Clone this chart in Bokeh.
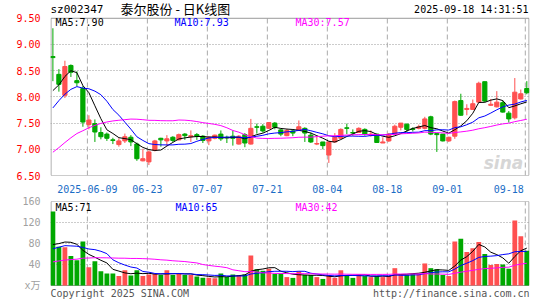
import numpy as np
import pandas as pd
from bokeh.plotting import figure
from bokeh.layouts import column
from bokeh.models import Range1d, FixedTicker, Label, ColumnDataSource
from bokeh.embed import file_html
from bokeh.resources import INLINE

code = "sz002347"
name = "泰尔股份 - 日K线图"
stamp = "2025-09-18 14:31:51"

dates = [d.strftime("%Y-%m-%d") for d in pd.bdate_range("2025-05-29", "2025-09-18")
         if d.strftime("%Y-%m-%d") != "2025-06-02"]

open_ = [8.77, 8.43, 8.03, 8.60, 8.31, 8.16, 7.47, 7.49, 7.32, 7.29,
         7.18, 7.09, 7.16, 7.23, 7.10, 6.78, 6.76, 6.98, 7.21, 7.16,
         7.23, 7.18, 7.29, 7.24, 7.28, 7.25, 7.16, 7.21, 7.29, 7.23,
         7.25, 7.10, 7.28, 7.10, 7.43, 7.44, 7.40, 7.50, 7.37, 7.26,
         7.35, 7.36, 7.40, 7.27, 7.10, 7.14, 6.89, 7.14, 7.21, 7.41,
         7.32, 7.32, 7.38, 7.27, 7.29, 7.12, 7.16, 7.29, 7.42, 7.48,
         7.39, 7.40, 7.40, 7.62, 7.30, 7.29, 7.16, 7.25, 7.93, 7.76,
         7.76, 7.90, 8.29, 7.84, 7.81, 7.89, 7.69, 7.60, 7.96, 8.16]
high = [9.31, 8.53, 8.69, 8.62, 8.49, 8.21, 7.65, 7.57, 7.42, 7.32,
        7.22, 7.21, 7.30, 7.27, 7.13, 7.01, 6.98, 7.18, 7.22, 7.27,
        7.25, 7.30, 7.31, 7.36, 7.31, 7.27, 7.25, 7.28, 7.36, 7.26,
        7.36, 7.27, 7.31, 7.58, 7.49, 7.48, 7.52, 7.52, 7.39, 7.39,
        7.38, 7.55, 7.42, 7.32, 7.25, 7.14, 7.15, 7.31, 7.40, 7.49,
        7.38, 7.42, 7.40, 7.36, 7.30, 7.23, 7.31, 7.47, 7.50, 7.49,
        7.42, 7.47, 7.62, 7.64, 7.31, 7.29, 7.24, 7.93, 8.06, 7.86,
        7.95, 8.29, 8.29, 7.96, 8.11, 7.93, 7.73, 8.36, 8.14, 8.30]
low = [8.30, 8.10, 7.98, 8.38, 8.20, 7.43, 7.38, 7.14, 7.19, 7.16,
       7.10, 7.05, 7.12, 7.06, 6.78, 6.77, 6.70, 6.96, 7.05, 7.06,
       7.14, 7.17, 7.18, 7.14, 7.18, 7.12, 7.08, 7.19, 7.16, 7.12,
       7.07, 7.09, 7.04, 7.09, 7.30, 7.32, 7.39, 7.38, 7.25, 7.25,
       7.25, 7.35, 7.14, 7.12, 7.08, 7.00, 6.74, 7.13, 7.20, 7.29,
       7.26, 7.31, 7.26, 7.24, 7.12, 7.12, 7.14, 7.28, 7.36, 7.33,
       7.34, 7.38, 7.38, 7.27, 6.95, 7.15, 7.14, 7.20, 7.64, 7.65,
       7.75, 7.89, 7.90, 7.83, 7.80, 7.70, 7.51, 7.57, 7.95, 8.05]
close = [8.75, 8.24, 8.58, 8.47, 8.27, 7.52, 7.56, 7.33, 7.24, 7.21,
         7.17, 7.16, 7.24, 7.14, 6.82, 6.82, 6.95, 7.16, 7.18, 7.20,
         7.17, 7.28, 7.26, 7.26, 7.25, 7.17, 7.23, 7.27, 7.20, 7.22,
         7.21, 7.25, 7.12, 7.40, 7.42, 7.35, 7.51, 7.42, 7.29, 7.36,
         7.31, 7.43, 7.31, 7.14, 7.11, 7.07, 7.14, 7.23, 7.38, 7.40,
         7.31, 7.40, 7.29, 7.29, 7.13, 7.14, 7.29, 7.44, 7.50, 7.38,
         7.38, 7.43, 7.58, 7.29, 7.28, 7.16, 7.23, 7.91, 7.65, 7.78,
         7.87, 8.26, 7.92, 7.86, 7.90, 7.71, 7.58, 8.09, 8.06, 8.08]
volume = [141, 74, 73, 56, 48, 84, 35, 46, 27, 23,
          23, 18, 29, 19, 29, 18, 21, 22, 20, 29,
          20, 22, 20, 20, 17, 15, 15, 14, 23, 16,
          21, 20, 21, 57, 31, 28, 32, 22, 23, 16,
          14.5, 27, 20, 20, 16, 12.5, 20, 14.5, 29, 19,
          14.5, 21, 18, 16, 18, 16, 18, 33, 20, 20,
          22, 22, 42, 33, 31, 20, 18, 84, 89, 64,
          71, 83, 60, 39, 41, 40, 32, 124, 94, 66]

# closes / volumes of the 29 sessions before the first visible day (needed for the MA lines)
prior_close = [5.60, 5.68, 5.75, 5.83, 5.92, 5.85, 5.98, 6.10, 6.40, 6.58,
               6.76, 6.90, 6.80, 6.90, 7.10, 7.30, 7.20, 7.35, 7.25, 7.18,
               6.85, 7.35, 7.55, 7.75, 7.80, 7.69, 7.78, 7.92, 8.46]
prior_volume = [22, 24, 26, 25, 27, 26, 28, 30, 27, 32,
                29, 31, 33, 28, 30, 32, 45, 52, 48, 55,
                45, 43, 61, 54, 107, 65, 58, 58.5, 67.5]

tick_dates = ["2025-06-09", "2025-06-23", "2025-07-07", "2025-07-21",
              "2025-08-04", "2025-08-18", "2025-09-01", "2025-09-18"]
price_ticks = [6.5, 7.0, 7.5, 8.0, 8.5, 9.0, 9.5]
vol_ticks = [0, 40, 80, 120, 160]

RED = "#ff5050"
GREEN = "#00a800"
BORDER = "#999999"
MONO = "'DejaVu Sans Mono', 'Noto Sans CJK SC', monospace"
CJK = "'Noto Sans CJK SC', sans-serif"


def ma(prior, vals, n):
    allv = np.array(list(prior) + list(vals), float)
    off = len(prior)
    return [float(allv[off + i - n + 1: off + i + 1].mean()) for i in range(len(vals))]


n = len(close)
xs = list(range(n))
colors = [RED if c >= o else GREEN for o, c in zip(open_, close)]
top = [max(o, c) for o, c in zip(open_, close)]
bot = [min(o, c) for o, c in zip(open_, close)]
src = ColumnDataSource(dict(x=xs, o=open_, h=high, l=low, c=close, top=top, bot=bot,
                            color=colors, vol=volume))

ma5, ma10, ma30 = (ma(prior_close, close, k) for k in (5, 10, 30))
vma5, vma10, vma30 = (ma(prior_volume, volume, k) for k in (5, 10, 30))

tick_idx = [dates.index(d) for d in tick_dates]
grid_pos = [i - 0.25 for i in tick_idx]
label_pos = grid_pos[:-1] + [tick_idx[-1] - 3.0]
label_txt = [tick_dates[0]] + [d[5:] for d in tick_dates[1:]]

# ---- geometry (pixels) ----
W = 545
FL, FR = 50, 529             # frame left / right
x0, x1 = -0.4, n - 0.55
PX = (x1 - x0) / (FR - FL)   # data units per pixel horizontally
P_TOP, P_BOT = 18, 177       # price box (9.5 .. 6.5)
V_TOP, V_BOT = 201, 285      # volume box (160 .. 0)
H1 = 195                     # price figure height (canvas 0..195)
H2 = 300 - H1                # volume figure height (canvas 195..300)

pmin, pmax = price_ticks[0], price_ticks[-1]
p_per_px = (pmax - pmin) / (P_BOT - P_TOP)
vmin, vmax = vol_ticks[0], vol_ticks[-1]
v_per_px = (vmax - vmin) / (V_BOT - V_TOP)


def base_fig(height, yr, top_b, bot_b):
    f = figure(width=W, height=height, x_range=Range1d(x0, x1), y_range=yr,
               output_backend="svg", toolbar_location=None, title=None,
               min_border_left=FL, min_border_right=W - FR, min_border_top=top_b,
               min_border_bottom=bot_b)
    f.outline_line_color = None
    f.background_fill_color = "white"
    f.border_fill_color = "white"
    f.xgrid.visible = False
    f.ygrid.grid_line_color = "#999999"
    f.ygrid.grid_line_dash = "1 2"
    for ax in (f.xaxis[0], f.yaxis[0]):
        ax.axis_line_color = None
        ax.major_tick_line_color = None
        ax.minor_tick_line_color = None
        ax.major_label_text_font = MONO
        ax.major_label_text_font_size = "10px"
    return f


def box(f, lo, hi):
    # vertical dashed date grid lines and the panel border
    f.segment(x0=grid_pos, y0=lo, x1=grid_pos, y1=hi, line_color="#aaaaaa",
              line_dash="5 3", line_width=1)
    f.quad(left=x0 + 0.5 * PX, right=x1 - 0.5 * PX, bottom=lo, top=hi,
           fill_color=None, line_color=BORDER, line_width=1)


# ---------------- price panel (frame reaches the top of the page for the header) ----------------
p = base_fig(H1, Range1d(pmin, pmax + P_TOP * p_per_px), 0, H1 - P_BOT)
p.ygrid.ticker = FixedTicker(ticks=price_ticks[1:-1])
p.yaxis.ticker = FixedTicker(ticks=price_ticks)
p.yaxis.major_label_overrides = {t: f"{t:.2f}" for t in price_ticks}
p.yaxis.major_label_text_color = "#ff0000"
p.yaxis.major_label_standoff = 4
p.xaxis.ticker = FixedTicker(ticks=label_pos)
p.xaxis.major_label_overrides = {pos: t for pos, t in zip(label_pos, label_txt)}
p.xaxis.major_label_text_color = "#1a6dc6"
p.xaxis.major_label_standoff = 3
box(p, pmin, pmax)

p.segment(x0="x", y0="h", x1="x", y1="l", color="color", line_width=1, source=src)
p.vbar(x="x", width=0.7, top="top", bottom="bot", fill_color="color", line_color="color",
       line_width=1, source=src)
p.line(xs, ma5, line_color="black", line_width=1)
p.line(xs, ma10, line_color="#0000ff", line_width=1)
p.line(xs, ma30, line_color="#ff00ff", line_width=1)


def lab(fig, fb, cx, cy, text, color="black", font=MONO, size="10px", align="left", style="normal"):
    # cx, cy: canvas pixel position; fb: canvas y of that figure's frame bottom
    fig.add_layout(Label(x=cx - FL, y=fb - cy, x_units="screen", y_units="screen", text=text,
                         text_color=color, text_font=font, text_font_size=size,
                         text_align=align, text_baseline="middle", text_font_style=style))


lab(p, P_BOT, 50, 10.5, code, size="11px")
lab(p, P_BOT, 120, 10, name, font=CJK, size="13px")
lab(p, P_BOT, 528, 11, stamp, align="right")
lab(p, P_BOT, 55, 23.5, f"MA5:{ma5[-1]:.2f}")
lab(p, P_BOT, 174, 23.5, f"MA10:{ma10[-1]:.2f}", color="#0000ff")
lab(p, P_BOT, 295, 23.5, f"MA30:{ma30[-1]:.2f}", color="#ff00ff")
lab(p, P_BOT, 503, 164, "sina", color="#d6d6d6", font="'DejaVu Sans', sans-serif", size="17px",
    align="center", style="bold italic")

# ---------------- volume panel (frame reaches the bottom of the page for the footer) ----------------
vt, vb = V_TOP - H1, V_BOT - H1          # in the volume figure's own canvas
v = base_fig(H2, Range1d(vmin - (H2 - vb) * v_per_px, vmax), vt, 0)
v.xaxis.visible = False
v.ygrid.ticker = FixedTicker(ticks=vol_ticks[1:-1])
v.yaxis.ticker = FixedTicker(ticks=vol_ticks)
v.yaxis.major_label_overrides = {t: (str(t) if t else "x万") for t in vol_ticks}
v.yaxis.major_label_text_color = "#a0a0a0"
v.yaxis.major_label_standoff = 4
box(v, vmin, vmax)

v.vbar(x="x", width=0.8, top="vol", bottom=0, fill_color="color", line_color=None, source=src)
v.line(xs, vma5, line_color="black", line_width=1)
v.line(xs, vma10, line_color="#0000ff", line_width=1)
v.line(xs, vma30, line_color="#ff00ff", line_width=1)

lab(v, H2, 55, vt + 5.5, f"MA5:{vma5[-1]:.0f}")
lab(v, H2, 175, vt + 5.5, f"MA10:{vma10[-1]:.0f}", color="#0000ff")
lab(v, H2, 295, vt + 5.5, f"MA30:{vma30[-1]:.0f}", color="#ff00ff")
lab(v, H2, 50, 97.5, "Copyright 2025 SINA.COM", color="#555555")
lab(v, H2, 529, 97.5, "http://finance.sina.com.cn", color="#555555", align="right")

layout = column(p, v, spacing=0)
open("out.html", "w").write(file_html(layout, INLINE))
